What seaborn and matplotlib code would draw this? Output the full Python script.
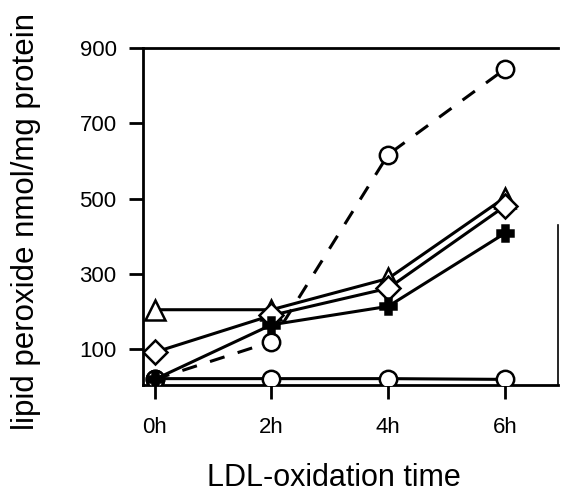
import matplotlib
matplotlib.use("Agg")
import matplotlib.pyplot as plt
import seaborn as sns

hours = [0, 2, 4, 6]
tick_labels = ["0h", "2h", "4h", "6h"]
y_ticks = [100, 300, 500, 700, 900]

circle_dashed = [20, 120, 617, 844]
triangle = [205, 205, 288, 503]
diamond = [92, 190, 262, 480]
plus = [20, 165, 214, 408]
circle_flat = [22, 22, 22, 20]

sns.set_theme(style="ticks")
plt.rcParams['font.family'] = ['Liberation Sans', 'DejaVu Sans']
plt.rcParams['text.color'] = 'black'
plt.rcParams['axes.labelcolor'] = 'black'

fig = plt.figure(figsize=(5.61, 4.93), dpi=100)
ax = fig.add_axes([0.255, 0.219, 0.7397, 0.6836])

lw = 2.2
common = dict(color="black", linewidth=lw, markeredgecolor="black",
              markeredgewidth=1.8, sort=False, ax=ax, zorder=3)

sns.lineplot(x=hours, y=circle_flat, marker="o", markersize=12.5,
             markerfacecolor="white", **common)
sns.lineplot(x=hours, y=circle_dashed, marker="o", markersize=12.5,
             markerfacecolor="white", linestyle=(0, (5, 4.5)), **common)
sns.lineplot(x=hours, y=triangle, marker="^", markersize=15,
             markerfacecolor="white", **common)
sns.lineplot(x=hours, y=diamond, marker="D", markersize=12.5,
             markerfacecolor="white", **common)
sns.lineplot(x=hours, y=plus, marker="P", markersize=11,
             markerfacecolor="black", **common)

ax.set_xlim(-0.2, 6.91)
ax.set_ylim(5, 900)
ax.set_xticks(hours)
ax.set_xticklabels(tick_labels)
ax.set_yticks(y_ticks)
ax.tick_params(axis="both", direction="out", length=10, width=2,
               labelsize=16, colors="black")
ax.tick_params(axis="x", pad=13)
ax.tick_params(axis="y", pad=9)
for s in ax.spines.values():
    s.set_linewidth(2)
    s.set_color("black")
ax.spines["right"].set_bounds(5, 430)
ax.spines["right"].set_linewidth(1.2)

ax.set_xlabel("LDL-oxidation time", fontsize=22)
ax.set_ylabel("lipid peroxide nmol/mg protein", fontsize=22.5)
ax.xaxis.set_label_coords(0.46, -0.232)
ax.yaxis.set_label_coords(-0.245, 0.484)

fig.savefig("out.png", dpi=100)
